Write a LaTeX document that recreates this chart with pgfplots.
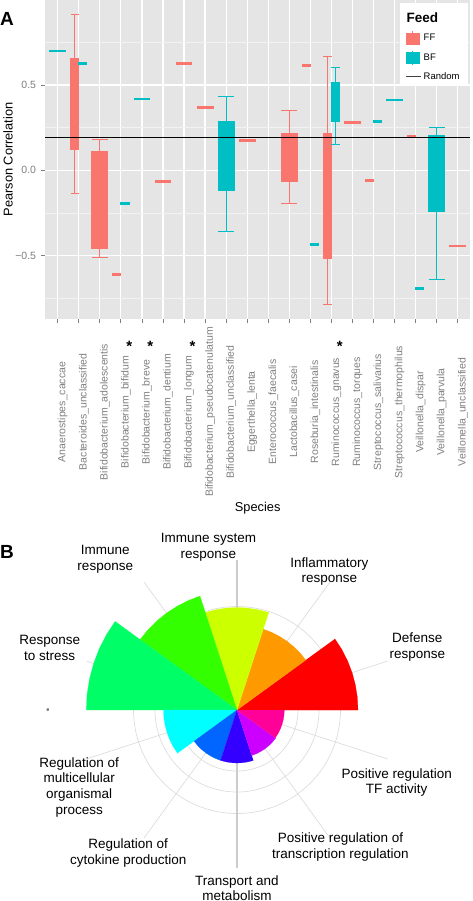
\documentclass[border=0pt]{standalone}
\usepackage{pgfplots}
\pgfplotsset{compat=1.18}
\usepgfplotslibrary{polar}
\usepackage{fontspec}
\setmainfont{Liberation Sans}

\definecolor{ffred}{HTML}{F8766D}
\definecolor{bfteal}{HTML}{00BFC4}
\definecolor{panelbg}{HTML}{E5E5E5}
\definecolor{minorgrid}{HTML}{F2F2F2}
\definecolor{ticktext}{HTML}{7F7F7F}
\definecolor{tickmark}{HTML}{7F7F7F}
\definecolor{polgrid}{HTML}{DDDDDD}
\definecolor{polaxis}{HTML}{CCCCCC}
\definecolor{sA}{HTML}{FF0000}
\definecolor{sB}{HTML}{FF9900}
\definecolor{sC}{HTML}{CCFF00}
\definecolor{sD}{HTML}{33FF00}
\definecolor{sE}{HTML}{00FF66}
\definecolor{sF}{HTML}{00FFFF}
\definecolor{sG}{HTML}{0066FF}
\definecolor{sH}{HTML}{3300FF}
\definecolor{sI}{HTML}{CC00FF}
\definecolor{sJ}{HTML}{FF0099}

\pgfplotsset{
  ffline/.style={draw=ffred, line width=2.6pt, forget plot},
  bfline/.style={draw=bfteal, line width=2.6pt, forget plot},
}
% box: colour, left, centre, right, lower whisker, lower quartile, upper quartile, upper whisker
\newcommand{\BX}[8]{%
 \addplot[#1, line width=1pt, forget plot] coordinates {(#3,#5) (#3,#8)};
 \addplot[#1, line width=1pt, forget plot] coordinates {(#2,#5) (#4,#5)};
 \addplot[#1, line width=1pt, forget plot] coordinates {(#2,#8) (#4,#8)};
 \addplot[#1, fill=#1, line width=1pt, line join=miter, line cap=rect, forget plot] coordinates {(#2,#6) (#4,#6) (#4,#7) (#2,#7) (#2,#6)};
}

\tikzset{lab/.style={align=center, font=\fontsize{13.5}{15.7}\selectfont, inner sep=0pt, text=black}}

\begin{document}
\begin{tikzpicture}
\useasboundingbox (0,0) rectangle (472pt,-901pt);
\begin{axis}[
  at={(45.07pt,0pt)}, anchor=north west,
  scale only axis, width=425.3pt, height=319pt,
  xmin=-0.6, xmax=19.6, ymin=-0.872, ymax=0.999,
  axis background/.style={fill=panelbg},
  axis line style={draw=none},
  clip=false,
  xtick={0,...,19},
  xticklabels={Anaerostipes\_caccae, Bacteroides\_unclassified, Bifidobacterium\_adolescentis, Bifidobacterium\_bifidum, Bifidobacterium\_breve, Bifidobacterium\_dentium, Bifidobacterium\_longum, Bifidobacterium\_pseudocatenulatum, Bifidobacterium\_unclassified, Eggerthella\_lenta, Enterococcus\_faecalis, Lactobacillus\_casei, Roseburia\_intestinalis, Ruminococcus\_gnavus, Ruminococcus\_torques, Streptococcus\_salivarius, Streptococcus\_thermophilus, Veillonella\_dispar, Veillonella\_parvula, Veillonella\_unclassified},
  ytick={-0.5,0,0.5},
  yticklabels={−0.5,0.0,0.5},
  minor ytick={-0.75,-0.25,0.25,0.75},
  xmajorgrids, ymajorgrids, yminorgrids,
  major grid style={white, line width=1.2pt},
  minor grid style={minorgrid, line width=0.6pt},
  tick align=outside, major tick length=4pt, minor tick length=0pt,
  tick style={draw=tickmark, line width=0.8pt},
  xtick pos=left, ytick pos=left,
  xticklabel style={font=\fontsize{10.5}{12}\selectfont, text=ticktext, yshift=-89pt, xshift=5pt, rotate=90, anchor=center},
  yticklabel style={font=\fontsize{10.5}{12}\selectfont, text=ticktext, anchor=east, xshift=-1.5pt},
  xlabel={Species}, ylabel={Pearson Correlation},
  every axis x label/.style={at={(rel axis cs:0.5,0)}, yshift=-189pt, anchor=center, font=\fontsize{12.8}{14}\selectfont},
  every axis y label/.style={at={(rel axis cs:0,0.5)}, xshift=-37pt, rotate=90, anchor=center, font=\fontsize{12.8}{14}\selectfont},
  legend style={at={(0.8329,0.9897)}, anchor=north west, draw=none, fill=white,
    font=\fontsize{9.5}{11}\selectfont, inner xsep=6pt, inner ysep=1pt, row sep=5pt},
  legend cell align=left,
]
% boxes (FF red, BF teal)
\BX{ffred}{0.61}{0.81}{1.01}{-0.138}{0.121}{0.653}{0.915}
\BX{ffred}{1.62}{2}{2.38}{-0.51}{-0.457}{0.108}{0.178}
\BX{bfteal}{7.62}{8}{8.38}{-0.361}{-0.116}{0.288}{0.435}
\BX{ffred}{10.62}{11}{11.38}{-0.196}{-0.067}{0.215}{0.349}
\BX{ffred}{12.61}{12.81}{13.01}{-0.785}{-0.518}{0.215}{0.668}
\BX{bfteal}{12.99}{13.19}{13.39}{0.151}{0.284}{0.515}{0.602}
\BX{bfteal}{17.62}{18}{18.38}{-0.638}{-0.243}{0.206}{0.249}
% single-value groups
\addplot[bfline] coordinates {(-0.40,0.70) (0.40,0.70)};
\addplot[bfline] coordinates {(0.97,0.625) (1.41,0.625)};
\addplot[ffline] coordinates {(2.59,-0.61) (3.03,-0.61)};
\addplot[bfline] coordinates {(2.97,-0.196) (3.41,-0.196)};
\addplot[bfline] coordinates {(3.60,0.419) (4.40,0.419)};
\addplot[ffline] coordinates {(4.60,-0.067) (5.40,-0.067)};
\addplot[ffline] coordinates {(5.60,0.625) (6.40,0.625)};
\addplot[ffline] coordinates {(6.60,0.368) (7.40,0.368)};
\addplot[ffline] coordinates {(8.60,0.176) (9.40,0.176)};
\addplot[ffline] coordinates {(11.59,0.614) (12.03,0.614)};
\addplot[bfline] coordinates {(11.97,-0.434) (12.41,-0.434)};
\addplot[ffline] coordinates {(13.60,0.282) (14.40,0.282)};
\addplot[ffline] coordinates {(14.59,-0.059) (15.03,-0.059)};
\addplot[bfline] coordinates {(14.97,0.288) (15.41,0.288)};
\addplot[bfline] coordinates {(15.60,0.412) (16.40,0.412)};
\addplot[ffline] coordinates {(16.59,0.200) (17.03,0.200)};
\addplot[bfline] coordinates {(16.97,-0.694) (17.41,-0.694)};
\addplot[ffline] coordinates {(18.60,-0.443) (19.40,-0.443)};
% random
\addplot[black, line width=1.1pt, forget plot] coordinates {(-0.6,0.19) (19.6,0.19)};
% stars
\node[font=\bfseries\fontsize{15}{15}\selectfont, yshift=-3pt] at (axis cs:3.40,-1.015) {*};
\node[font=\bfseries\fontsize{15}{15}\selectfont, yshift=-3pt] at (axis cs:4.40,-1.015) {*};
\node[font=\bfseries\fontsize{15}{15}\selectfont, yshift=-3pt] at (axis cs:6.40,-1.015) {*};
\node[font=\bfseries\fontsize{15}{15}\selectfont, yshift=-3pt] at (axis cs:13.40,-1.015) {*};
% legend
\addlegendimage{empty legend}
\addlegendentry{\hspace*{-17pt}\rule[-5pt]{0pt}{21pt}\fontsize{13.5}{15}\selectfont\bfseries Feed}
\addlegendimage{legend image code/.code={\fill[ffred] (0pt,-5.5pt) rectangle (13.3pt,5.5pt); \draw[ffred, line width=0.6pt] (6.65pt,-7pt)--(6.65pt,7pt);}}
\addlegendentry{FF}
\addlegendimage{legend image code/.code={\fill[bfteal] (0pt,-5.5pt) rectangle (13.3pt,5.5pt); \draw[bfteal, line width=0.6pt] (6.65pt,-7pt)--(6.65pt,7pt);}}
\addlegendentry{BF}
\addlegendimage{legend image code/.code={\draw[black!75, line width=0.6pt] (0pt,0pt)--(15.6pt,0pt);}}
\addlegendentry{Random}
\end{axis}

\node[font=\bfseries\fontsize{19}{19}\selectfont] at (7pt,-19pt) {A};
\node[font=\bfseries\fontsize{19}{19}\selectfont] at (7pt,-551.7pt) {B};

\begin{polaraxis}[
  at={(237pt,-710pt)}, anchor=center,
  scale only axis, width=316pt, height=316pt,
  xmin=0, xmax=360, ymin=0, ymax=158,
  axis line style={draw=none},
  xtick=\empty, ytick={61,82,103.5}, yticklabels={},
  ymajorgrids, major grid style={polgrid, line width=0.7pt},
  major tick length=0pt, clip=false,
]
% radial leader lines
\addplot[polgrid, line width=0.7pt] coordinates {(18,0) (18,158)};
\addplot[polgrid, line width=0.7pt] coordinates {(54,0) (54,158)};
\addplot[polgrid, line width=0.7pt] coordinates {(126,0) (126,158)};
\addplot[polgrid, line width=0.7pt] coordinates {(162,0) (162,158)};
\addplot[polgrid, line width=0.7pt] coordinates {(198,0) (198,158)};
\addplot[polgrid, line width=0.7pt] coordinates {(234,0) (234,158)};
\addplot[polgrid, line width=0.7pt] coordinates {(306,0) (306,158)};
\addplot[polgrid, line width=0.7pt] coordinates {(342,0) (342,158)};
\addplot[polaxis, line width=1.6pt] coordinates {(90,0) (90,150)};
\addplot[polaxis, line width=1.6pt] coordinates {(270,0) (270,158)};
% sectors (angle, radius)
\addplot[fill=sA, draw=sA, line width=0.2pt] coordinates {(0,0) (0,121) (6,121) (12,121) (18,121) (24,121) (30,121) (36,121)};
\addplot[fill=sB, draw=sB, line width=0.2pt] coordinates {(0,0) (36,85) (42,85) (48,85) (54,85) (60,85) (66,85) (72,85)};
\addplot[fill=sC, draw=sC, line width=0.2pt] coordinates {(0,0) (72,102.5) (78,102.5) (84,102.5) (90,102.5) (96,102.5) (102,102.5) (108,102.5)};
\addplot[fill=sD, draw=sD, line width=0.2pt] coordinates {(0,0) (108,119.8) (114,119.8) (120,119.8) (126,119.8) (132,119.8) (138,119.8) (144,119.8)};
\addplot[fill=sE, draw=sE, line width=0.2pt] coordinates {(0,0) (144,150.7) (150,150.7) (156,150.7) (162,150.7) (168,150.7) (174,150.7) (180,150.7)};
\addplot[fill=sF, draw=sF, line width=0.2pt] coordinates {(0,0) (180,73.5) (186,73.5) (192,73.5) (198,73.5) (204,73.5) (210,73.5) (216,73.5)};
\addplot[fill=sG, draw=sG, line width=0.2pt] coordinates {(0,0) (216,53) (222,53) (228,53) (234,53) (240,53) (246,53) (252,53)};
\addplot[fill=sH, draw=sH, line width=0.2pt] coordinates {(0,0) (252,53) (258,53) (264,53) (270,53) (276,53) (282,53) (288,53)};
\addplot[fill=sI, draw=sI, line width=0.2pt] coordinates {(0,0) (288,47.8) (294,47.8) (300,47.8) (306,47.8) (312,47.8) (318,47.8) (324,47.8)};
\addplot[fill=sJ, draw=sJ, line width=0.2pt] coordinates {(0,0) (324,47.3) (330,47.3) (336,47.3) (342,47.3) (348,47.3) (354,47.3) (360,47.3)};
% labels
\node[lab] at (axis cs:99.93,165.3) {Immune system\\response};
\node[lab] at (axis cs:131.2,200.0) {Immune\\response};
\node[lab] at (axis cs:56.3,166.4) {Inflammatory\\response};
\node[lab] at (axis cs:19.2,190.9) {Defense\\response};
\node[lab] at (axis cs:161.6,197.4) {Response\\to stress};
\node[lab] at (axis cs:206.1,175.7) {Regulation of\\multicellular\\organismal\\process};
\node[lab] at (axis cs:335.6,175.4) {Positive regulation\\TF activity};
\node[lab] at (axis cs:307.0,171.9) {Positive regulation of\\transcription regulation};
\node[lab] at (axis cs:232.8,179.9) {Regulation of\\cytokine production};
\node[lab] at (axis cs:270.0,178.3) {Transport and\\metabolism};
\node[font=\fontsize{5}{5}\selectfont, inner sep=0pt] at (axis cs:180.2,189) {e};
\end{polaraxis}
\end{tikzpicture}
\end{document}
